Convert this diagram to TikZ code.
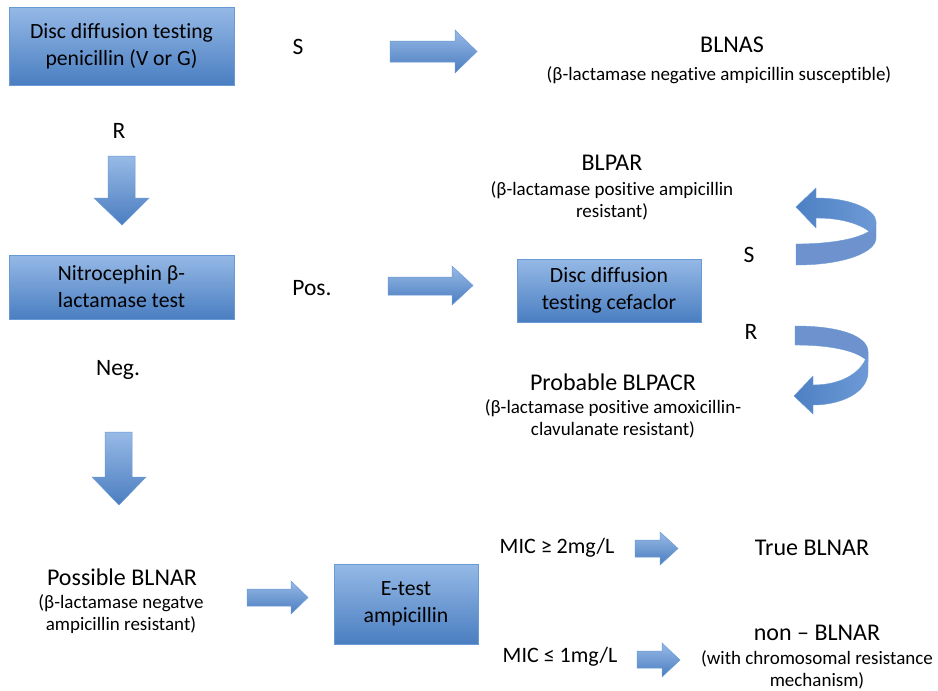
\documentclass[tikz,border=0pt]{standalone}
\usepackage{fontspec}
\setmainfont{Carlito}[Ligatures={NoCommon}]
\definecolor{boxtop}{HTML}{95B9E6}
\definecolor{boxbot}{HTML}{4A7EC1}
\definecolor{boxline}{HTML}{6A9AD6}
\definecolor{arrtop}{HTML}{98BAE6}
\definecolor{arrbot}{HTML}{4A7DC0}
\definecolor{curvefront}{HTML}{4D80C3}
\definecolor{curvefront2}{HTML}{6E9AD6}
\definecolor{curveback}{HTML}{6E92CE}
\tikzset{
  stepbox/.style={draw=boxline, line width=0.7pt, top color=boxtop, bottom color=boxbot,
    align=center, inner sep=0pt, font=\fontsize{21.7}{27}\selectfont},
  blockarr/.style={draw=boxline, line width=0.5pt, top color=arrtop, bottom color=arrbot},
  bigl/.style={align=center, inner sep=0pt, font=\fontsize{24}{29}\selectfont},
  subl/.style={align=center, inner sep=0pt, font=\fontsize{19}{22.5}\selectfont},
  letl/.style={inner sep=0pt, font=\fontsize{23.5}{27}\selectfont},
  micl/.style={inner sep=0pt, font=\fontsize{22}{27}\selectfont},
  cfront/.style={left color=curvefront, right color=curvefront2, draw=boxline, line width=0.4pt},
  cback/.style={fill=curveback, draw=boxline, line width=0.4pt}
}
\begin{document}
\begin{tikzpicture}[x=1pt,y=-1pt]
\useasboundingbox[fill=white] (0,0) rectangle (938,691);

% boxes
\node[stepbox, minimum width=225pt, minimum height=78pt] (b1) at (121.5,46) {Disc diffusion testing\\penicillin (V or G)};
\node[stepbox, minimum width=225pt, minimum height=64pt] (b2) at (121.5,287) {Nitrocephin β-\\lactamase test};
\node[stepbox, minimum width=184pt, minimum height=63pt] (b3) at (609,290.5) {Disc diffusion\\testing cefaclor};
\node[stepbox, minimum width=144pt, minimum height=80pt] (b4) at (406,604) {E-test\\ampicillin};

% letters
\node[letl] (s1) at (298,47) {S};
\node[letl] (r1) at (119,131) {R};
\node[letl] (pos) at (312,288) {Pos.};
\node[letl] (neg) at (118,370) {Neg.};
\node[letl] (s2) at (749,255) {S};
\node[letl] (r2) at (751,332) {R};

% outcome labels
\node[bigl] (blnas) at (732,45) {BLNAS};
\node[subl] (blnassub) at (719,75) {(β-lactamase negative ampicillin susceptible)};
\node[bigl] (blpar) at (612,163) {BLPAR};
\node[subl] (blparsub) at (612,201) {(β-lactamase positive ampicillin\\resistant)};
\node[bigl] (blpacr) at (613,382) {Probable BLPACR};
\node[subl] (blpacrsub) at (613,419) {(β-lactamase positive amoxicillin-\\clavulanate resistant)};
\node[bigl] (blnar) at (122,577) {Possible BLNAR};
\node[subl] (blnarsub) at (121,614) {(β-lactamase negatve\\ampicillin resistant)};
\node[micl] (mic1) at (557,548) {MIC ≥ 2mg/L};
\node[micl] (mic2) at (560,657) {MIC ≤ 1mg/L};
\node[bigl] (true) at (812,548) {True BLNAR};
\node[bigl] (non) at (817,633) {non – BLNAR};
\node[subl] (nonsub) at (817,670) {(with chromosomal resistance\\mechanism)};

% straight block arrows
\path[blockarr] (390,41) -- (455,41) -- (455,30) -- (477,51.5) -- (455,73) -- (455,62) -- (390,62) -- cycle;
\path[blockarr] (388,277) -- (452,277) -- (452,266) -- (473,285.5) -- (452,305) -- (452,295) -- (388,295) -- cycle;
\path[blockarr] (247,589) -- (291,589) -- (291,581) -- (308,597.5) -- (291,614) -- (291,606) -- (247,606) -- cycle;
\path[blockarr] (635,540) -- (660,540) -- (660,532) -- (678,548.5) -- (660,565) -- (660,557) -- (635,557) -- cycle;
\path[blockarr] (637,651) -- (662,651) -- (662,643) -- (680,660) -- (662,677) -- (662,668) -- (637,668) -- cycle;
\path[blockarr] (108,156) -- (135,156) -- (135,198) -- (149,198) -- (122,225) -- (94,198) -- (108,198) -- cycle;
\path[blockarr] (105,432) -- (132,432) -- (132,477) -- (146,477) -- (119,505) -- (92,477) -- (105,477) -- cycle;

% curved arrow (S), pointing left at top
\path[cback] (876,222) .. controls (876,234) and (845,244) .. (796,244) -- (796,265)
  .. controls (845,265) and (876,252) .. (876,238) -- cycle;
\path[cfront] (816,198) .. controls (852,198) and (876,210) .. (876,222)
  .. controls (876,227) and (874,230) .. (870,232)
  .. controls (860,224) and (842,218) .. (816,218) -- (816,228) -- (796,207) -- (816,188) -- cycle;

% curved arrow (R), pointing left at bottom
\path[cback] (795,326) .. controls (840,326) and (868,336) .. (868,352) -- (868,362)
  .. controls (860,352) and (835,345) .. (795,345) -- cycle;
\path[cfront] (868,352) -- (868,372) .. controls (868,392) and (842,405) .. (813,405)
  -- (813,414) -- (794,396) -- (813,376) -- (813,385)
  .. controls (842,385) and (864,372) .. (868,352) -- cycle;
\end{tikzpicture}
\end{document}
